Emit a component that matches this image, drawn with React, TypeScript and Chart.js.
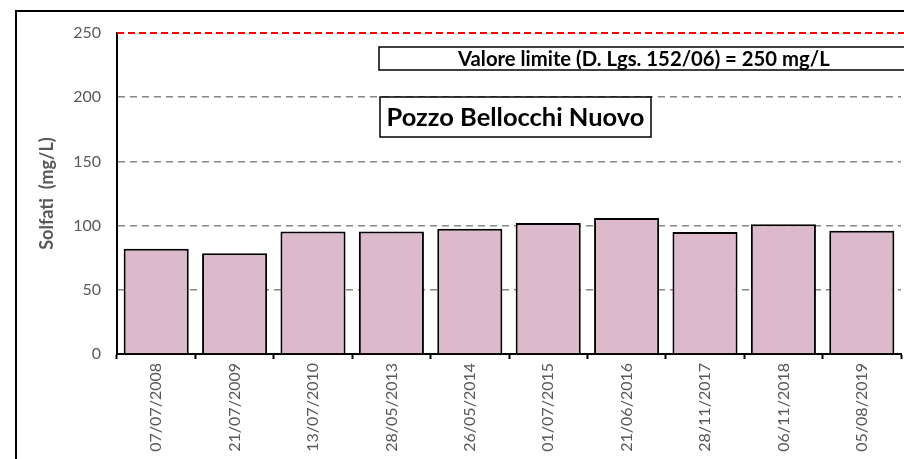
import React, { useEffect, useRef } from "react";
import { Chart, registerables } from "chart.js";

Chart.register(...registerables);

const categories = [
  "07/07/2008", "21/07/2009", "13/07/2010", "28/05/2013", "26/05/2014",
  "01/07/2015", "21/06/2016", "28/11/2017", "06/11/2018", "05/08/2019",
];
const solfati = [82, 78.5, 95.5, 95.5, 97.5, 102, 106, 95, 101, 96];
const yTicks = [0, 50, 100, 150, 200, 250];
const limitValue = 250;
const limitLabel = "Valore limite (D. Lgs. 152/06) = 250 mg/L";
const titleLabel = "Pozzo Bellocchi Nuovo";
const yAxisTitle = "Solfati  (mg/L)";

const FONT = "Lato, 'Open Sans', sans-serif";

function fitFont(ctx: CanvasRenderingContext2D, text: string, target: number, weight: string) {
  ctx.font = `${weight} 20px ${FONT}`;
  const w = ctx.measureText(text).width;
  return Math.max(8, (20 * target) / w);
}

const decorPlugin = {
  id: "decor",
  beforeDraw(chart: any) {
    const ctx = chart.ctx as CanvasRenderingContext2D;
    ctx.save();
    ctx.fillStyle = "#ffffff";
    ctx.fillRect(0, 0, chart.width, chart.height);
    ctx.restore();
  },
  beforeDatasetsDraw(chart: any) {
    const ctx = chart.ctx as CanvasRenderingContext2D;
    const y = chart.scales.y.getPixelForValue(limitValue);
    const { left } = chart.chartArea;
    ctx.save();
    ctx.strokeStyle = "#ff0000";
    ctx.lineWidth = 2;
    ctx.setLineDash([7, 4]);
    ctx.beginPath();
    ctx.moveTo(left, y);
    ctx.lineTo(chart.width, y);
    ctx.stroke();
    ctx.restore();
  },
  afterDraw(chart: any) {
    const ctx = chart.ctx as CanvasRenderingContext2D;
    ctx.save();
    // outer frame
    ctx.strokeStyle = "#000000";
    ctx.lineWidth = 2;
    ctx.beginPath();
    ctx.moveTo(16, chart.height + 2);
    ctx.lineTo(16, 11);
    ctx.lineTo(chart.width + 2, 11);
    ctx.stroke();

    // limit label box
    ctx.lineWidth = 1.5;
    ctx.fillStyle = "#ffffff";
    ctx.fillRect(379, 47, chart.width - 379 + 4, 23);
    ctx.strokeRect(379, 47, chart.width - 379 + 4, 23);
    const fs1 = fitFont(ctx, limitLabel, 372, "bold");
    ctx.font = `bold ${fs1}px ${FONT}`;
    ctx.fillStyle = "#000000";
    ctx.textBaseline = "middle";
    ctx.textAlign = "left";
    ctx.fillText(limitLabel, 458, 59);

    // title box
    ctx.fillStyle = "#ffffff";
    ctx.fillRect(380, 97, 271, 40);
    ctx.strokeRect(380, 97, 271, 40);
    const fs2 = fitFont(ctx, titleLabel, 258, "bold");
    ctx.font = `bold ${fs2}px ${FONT}`;
    ctx.fillStyle = "#000000";
    ctx.textAlign = "center";
    ctx.fillText(titleLabel, 515.5, 118);
    ctx.restore();
  },
};

export default function App() {
  const ref = useRef<HTMLCanvasElement | null>(null);
  useEffect(() => {
    if (!ref.current) return;
    const chart = new Chart(ref.current, {
      type: "bar",
      data: {
        labels: categories,
        datasets: [
          {
            data: solfati,
            backgroundColor: "#dcb9cb",
            borderColor: "#000000",
            borderWidth: 2,
            categoryPercentage: 1,
            barPercentage: 0.83,
          },
        ],
      },
      plugins: [decorPlugin],
      options: {
        animation: false,
        responsive: false,
        maintainAspectRatio: false,
        layout: { padding: { left: 28, top: 33, right: 3, bottom: 0 } },
        plugins: { legend: { display: false }, tooltip: { enabled: false }, title: { display: false } },
        scales: {
          x: {
            grid: {
              offset: true,
              drawOnChartArea: false,
              drawTicks: true,
              tickLength: 5,
              tickColor: "#000000",
              tickWidth: 2,
            },
            border: { display: true, color: "#000000", width: 2 },
            ticks: {
              minRotation: 90,
              maxRotation: 90,
              autoSkip: false,
              padding: 4,
              color: "#595959",
              font: { family: FONT, size: 16 },
            },
            afterFit: (s: any) => {
              s.height = 105;
            },
          },
          y: {
            min: 0,
            max: 250,
            afterBuildTicks: (s: any) => {
              s.ticks = yTicks.map((v) => ({ value: v }));
            },
            grid: {
              drawTicks: false,
              color: (c: any) =>
                c.tick && (c.tick.value === 0 || c.tick.value === limitValue) ? "rgba(0,0,0,0)" : "#868686",
              lineWidth: 1.5,
            },
            border: { display: true, color: "#000000", width: 2, dash: [7, 5] },
            ticks: {
              padding: 16,
              color: "#595959",
              font: { family: FONT, size: 16 },
            },
            title: {
              display: true,
              text: yAxisTitle,
              color: "#595959",
              font: { family: FONT, size: 18, weight: "bold" },
              padding: { top: 8, bottom: 0 },
            },
            afterFit: (s: any) => {
              s.width = 89;
            },
          },
        },
      },
    } as any);
    return () => chart.destroy();
  }, []);
  return (
    <div style={{ position: "fixed", left: 0, top: 0, width: 904, height: 459 }}>
      <canvas ref={ref} width={904} height={459} style={{ display: "block", width: 904, height: 459 }} />
    </div>
  );
}
